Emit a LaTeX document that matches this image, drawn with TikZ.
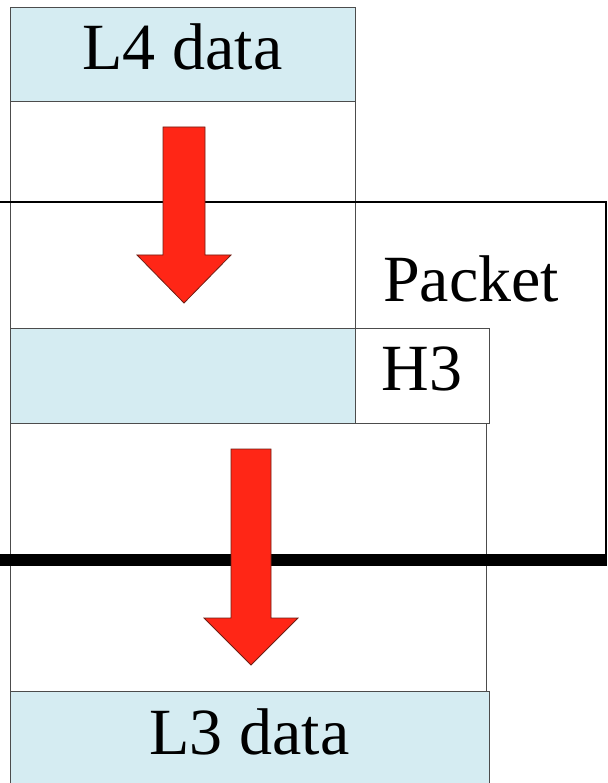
\documentclass[tikz,border=0pt]{standalone}
\usepackage{fontspec}
\setmainfont{Liberation Serif}
\usepackage{tikz}
\usetikzlibrary{positioning}

\colorlet{payload}{rgb,255:red,213;green,236;blue,242}
\colorlet{boxline}{black!70}
\colorlet{pushred}{rgb,255:red,255;green,38;blue,22}
\colorlet{pushrim}{rgb,255:red,110;green,30;blue,20}

\tikzset{
  big/.style={font=\fontsize{66}{72}\selectfont},
  layerbox/.style={big,draw=boxline,line width=1pt,inner sep=0pt,outer sep=0pt,
    text height=46pt,text depth=16pt},
  databox/.style={layerbox,fill=payload},
  blankbox/.style={layerbox,fill=white},
  push/.style={fill=pushred,draw=pushrim,line width=0.8pt,line join=miter},
}

\begin{document}
\begin{tikzpicture}[x=1pt,y=-1pt]
\useasboundingbox (0,0) rectangle (607,783);

% upper layer: L4 data and the room below it
\node[databox,minimum width=345pt,minimum height=94pt] (l4) at (182.5,55) {L4 data};
\node[blankbox,minimum width=345pt,minimum height=226pt,below=0pt of l4] (l4gap) {};

% data wrapped with the H3 header
\node[databox,minimum width=345pt,minimum height=95pt,below=0pt of l4gap] (body) {};
\node[blankbox,minimum width=134pt,minimum height=95pt,right=0pt of body] (h3) {H3};
\node[blankbox,minimum width=476pt,minimum height=268pt,anchor=north west] (l3gap) at (body.south west) {};

% lower layer
\node[databox,minimum width=479pt,minimum height=96pt,anchor=north west] (l3) at (l3gap.south west) {L3 data};

% packet outline
\coordinate (pkt-nw) at (-5,202);
\coordinate (pkt-ne) at (606,202);
\coordinate (pkt-se) at (606,560);
\draw[line width=1.1pt] (pkt-nw) -- (pkt-ne) -- (pkt-se);
\node[big,inner sep=0pt,anchor=base west] (packet) at (383,301) {Packet};

% the wire
\coordinate (wire-w) at (0,560);
\coordinate (wire-e) at (607,560);
\draw[line width=12pt] (wire-w) -- (wire-e);

% downward arrows
\foreach \cx/\sw/\top/\neck/\tip in {184/21/127/255/303, 251/20/449/618/665}
  \filldraw[push] (\cx-\sw,\top) -- (\cx+\sw,\top) -- (\cx+\sw,\neck) -- (\cx+47,\neck)
    -- (\cx,\tip) -- (\cx-47,\neck) -- (\cx-\sw,\neck) -- cycle;
\end{tikzpicture}
\end{document}
